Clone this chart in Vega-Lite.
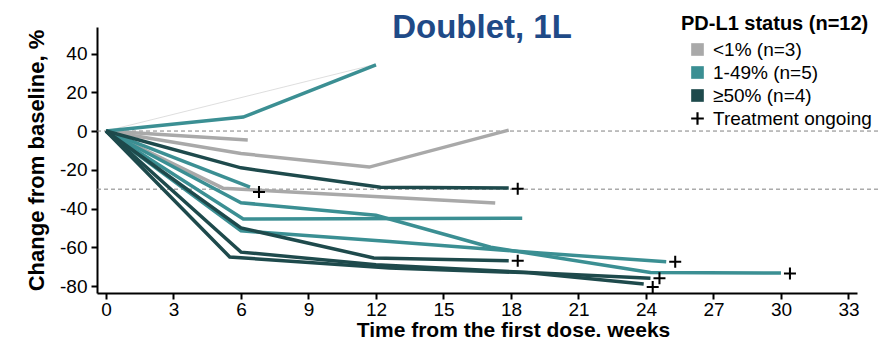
{
  "$schema": "https://vega.github.io/schema/vega-lite/v6.json",
  "width": 760,
  "height": 266,
  "autosize": "none",
  "padding": {"left": 97, "top": 27, "right": 26, "bottom": 47},
  "background": "white",
  "title": {"text": "Doublet, 1L", "font": "Liberation Sans", "fontSize": 33, "fontWeight": "bold", "color": "#1F4A87", "anchor": "middle", "frame": "group", "baseline": "alphabetic", "offset": 0, "dy": 57, "dx": 5},
  "config": {
    "view": {"stroke": null},
    "font": "Liberation Sans",
    "axis": {"grid": false, "domainColor": "black", "domainWidth": 2, "tickColor": "black", "tickWidth": 2, "tickSize": 6, "labelColor": "black", "labelFont": "Liberation Sans", "labelFontSize": 19, "titleColor": "black", "titleFont": "Liberation Sans", "titleFontSize": 22, "titleFontWeight": "bold"}
  },
  "datasets": {
    "lines": [
      {"id": "g1", "group": "<1% (n=3)", "week": 0, "pct": 0},
      {"id": "g1", "group": "<1% (n=3)", "week": 6.3, "pct": -4.6},
      {"id": "g2", "group": "<1% (n=3)", "week": 0, "pct": 0},
      {"id": "g2", "group": "<1% (n=3)", "week": 6, "pct": -11.6},
      {"id": "g2", "group": "<1% (n=3)", "week": 11.7, "pct": -18.6},
      {"id": "g2", "group": "<1% (n=3)", "week": 17.9, "pct": 0.5},
      {"id": "g3", "group": "<1% (n=3)", "week": 0, "pct": 0},
      {"id": "g3", "group": "<1% (n=3)", "week": 5.2, "pct": -29.5},
      {"id": "g3", "group": "<1% (n=3)", "week": 17.3, "pct": -37.2},
      {"id": "t1", "group": "1-49% (n=5)", "week": 0, "pct": 0},
      {"id": "t1", "group": "1-49% (n=5)", "week": 6.1, "pct": 7.2},
      {"id": "t1", "group": "1-49% (n=5)", "week": 12, "pct": 34.2},
      {"id": "t2", "group": "1-49% (n=5)", "week": 0, "pct": 0},
      {"id": "t2", "group": "1-49% (n=5)", "week": 6.4, "pct": -29},
      {"id": "t3", "group": "1-49% (n=5)", "week": 0, "pct": 0},
      {"id": "t3", "group": "1-49% (n=5)", "week": 6.1, "pct": -45.4},
      {"id": "t3", "group": "1-49% (n=5)", "week": 18.5, "pct": -45},
      {"id": "t4", "group": "1-49% (n=5)", "week": 0, "pct": 0},
      {"id": "t4", "group": "1-49% (n=5)", "week": 6, "pct": -37},
      {"id": "t4", "group": "1-49% (n=5)", "week": 12, "pct": -43.5},
      {"id": "t4", "group": "1-49% (n=5)", "week": 17.1, "pct": -60},
      {"id": "t4", "group": "1-49% (n=5)", "week": 24.2, "pct": -73},
      {"id": "t4", "group": "1-49% (n=5)", "week": 30, "pct": -73.3},
      {"id": "t5", "group": "1-49% (n=5)", "week": 0, "pct": 0},
      {"id": "t5", "group": "1-49% (n=5)", "week": 6, "pct": -51.5},
      {"id": "t5", "group": "1-49% (n=5)", "week": 12.6, "pct": -57},
      {"id": "t5", "group": "1-49% (n=5)", "week": 19.3, "pct": -63},
      {"id": "t5", "group": "1-49% (n=5)", "week": 24.9, "pct": -67.5},
      {"id": "d1", "group": "≥50% (n=4)", "week": 0, "pct": 0},
      {"id": "d1", "group": "≥50% (n=4)", "week": 6, "pct": -19},
      {"id": "d1", "group": "≥50% (n=4)", "week": 12.2, "pct": -29},
      {"id": "d1", "group": "≥50% (n=4)", "week": 17.9, "pct": -29.4},
      {"id": "d2", "group": "≥50% (n=4)", "week": 0, "pct": 0},
      {"id": "d2", "group": "≥50% (n=4)", "week": 6, "pct": -50},
      {"id": "d2", "group": "≥50% (n=4)", "week": 11.9, "pct": -65.5},
      {"id": "d2", "group": "≥50% (n=4)", "week": 17.9, "pct": -67},
      {"id": "d3", "group": "≥50% (n=4)", "week": 0, "pct": 0},
      {"id": "d3", "group": "≥50% (n=4)", "week": 6, "pct": -62.5},
      {"id": "d3", "group": "≥50% (n=4)", "week": 12, "pct": -69},
      {"id": "d3", "group": "≥50% (n=4)", "week": 18.8, "pct": -73},
      {"id": "d3", "group": "≥50% (n=4)", "week": 24.2, "pct": -76},
      {"id": "d4", "group": "≥50% (n=4)", "week": 0, "pct": 0},
      {"id": "d4", "group": "≥50% (n=4)", "week": 5.5, "pct": -65},
      {"id": "d4", "group": "≥50% (n=4)", "week": 12.6, "pct": -70.7},
      {"id": "d4", "group": "≥50% (n=4)", "week": 18.8, "pct": -73.2},
      {"id": "d4", "group": "≥50% (n=4)", "week": 23.9, "pct": -79}
    ],
    "ongoing": [
      {"group": "Treatment ongoing", "week": 6.8, "pct": -31.5},
      {"group": "Treatment ongoing", "week": 18.3, "pct": -29.8},
      {"group": "Treatment ongoing", "week": 18.3, "pct": -67},
      {"group": "Treatment ongoing", "week": 25.3, "pct": -67.5},
      {"group": "Treatment ongoing", "week": 30.4, "pct": -73.5},
      {"group": "Treatment ongoing", "week": 24.6, "pct": -76},
      {"group": "Treatment ongoing", "week": 24.3, "pct": -80.5}
    ],
    "refs": [{"ref": 0}, {"ref": -30}],
    "thin": [{"week": 0, "pct": 0}, {"week": 12, "pct": 34.5}]
  },
  "layer": [
    {
      "data": {"name": "refs"},
      "mark": {"type": "rule", "color": "#808080", "strokeWidth": 1, "strokeDash": [4, 3]},
      "encoding": {
        "y": {"field": "ref", "type": "quantitative"},
        "x": {"datum": -0.4, "type": "quantitative"},
        "x2": {"datum": 34.4}
      }
    },
    {
      "data": {"name": "thin"},
      "mark": {"type": "line", "color": "#C8C8C8", "strokeWidth": 0.6},
      "encoding": {
        "x": {"field": "week", "type": "quantitative"},
        "y": {"field": "pct", "type": "quantitative"}
      }
    },
    {
      "data": {"name": "lines"},
      "mark": {"type": "line", "strokeWidth": 3.5},
      "encoding": {
        "x": {"field": "week", "type": "quantitative", "scale": {"domain": [-0.4, 33.38], "nice": false, "zero": false},
          "axis": {"values": [0, 3, 6, 9, 12, 15, 18, 21, 24, 27, 30, 33], "title": "Time from the first dose. weeks", "titleX": 416, "titleAlign": "center", "titlePadding": 0, "titleFontSize": 21, "labelPadding": 1}},
        "y": {"field": "pct", "type": "quantitative", "scale": {"domain": [-83.6, 53.7], "nice": false, "zero": false},
          "axis": {"values": [-80, -70, -60, -50, -40, -30, -20, -10, 0, 10, 20, 30, 40, 50], "labelExpr": "datum.value % 20 === 0 ? '' + datum.value : ''", "title": "Change from baseline, %", "titlePadding": 11, "labelPadding": 4}},
        "stroke": {"field": "group", "type": "nominal", "scale": {"domain": ["<1% (n=3)", "1-49% (n=5)", "≥50% (n=4)"], "range": ["#A9A9A9", "#3B8F93", "#1E4A4C"]}, "legend": null},
        "detail": {"field": "id"}
      }
    },
    {
      "data": {"name": "ongoing"},
      "mark": {"type": "point", "filled": true, "size": 144, "strokeWidth": 0, "opacity": 1},
      "encoding": {
        "x": {"field": "week", "type": "quantitative"},
        "y": {"field": "pct", "type": "quantitative"},
        "fill": {"field": "group", "type": "nominal",
          "scale": {"domain": ["<1% (n=3)", "1-49% (n=5)", "≥50% (n=4)", "Treatment ongoing"], "range": ["#A9A9A9", "#3B8F93", "#1E4A4C", "#000000"]},
          "legend": {"title": "PD-L1 status (n=12)", "orient": "none", "legendX": 584, "legendY": -13, "padding": 0, "titleFontSize": 20, "titleFontWeight": "bold", "titleColor": "black", "titleFont": "Liberation Sans", "titleLimit": 400, "labelLimit": 400, "labelFont": "Liberation Sans", "labelFontSize": 19, "labelColor": "black", "symbolSize": 160, "symbolStrokeWidth": 0, "symbolOffset": 7, "labelOffset": 6, "rowPadding": 3, "titlePadding": 6}},
        "shape": {"field": "group", "type": "nominal",
          "scale": {"domain": ["<1% (n=3)", "1-49% (n=5)", "≥50% (n=4)", "Treatment ongoing"], "range": ["square", "square", "square", "M-1,-0.17H-0.17V-1H0.17V-0.17H1V0.17H0.17V1H-0.17V0.17H-1Z"]}}
      }
    }
  ]
}
